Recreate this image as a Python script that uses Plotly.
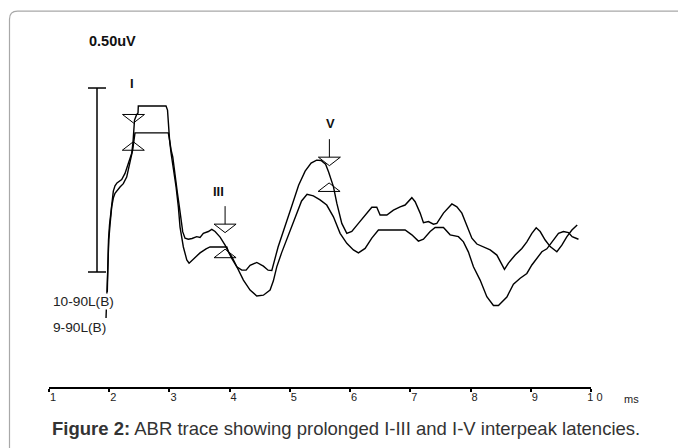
import plotly.graph_objects as go

# ---------------- data (time in ms, amplitude in uV) ----------------
t1_ms = [1.968, 1.977, 1.988, 2.005, 2.025, 2.046, 2.068, 2.096, 2.129, 2.207, 2.262, 2.317, 2.374,
         2.395, 2.403, 2.420, 2.453, 2.478, 2.483, 2.943, 2.968, 2.985, 3.002, 3.027, 3.055, 3.077,
         3.110, 3.132, 3.165, 3.188, 3.221, 3.259, 3.314, 3.375, 3.453, 3.508, 3.563, 3.646, 3.703,
         3.758, 3.841, 3.924, 3.979, 4.035, 4.118, 4.201, 4.273, 4.339, 4.450, 4.560, 4.638, 4.700,
         4.804, 4.920, 5.037, 5.145, 5.253, 5.352, 5.444, 5.518, 5.593, 5.643, 5.723, 5.779, 5.862,
         5.945, 6.028, 6.138, 6.249, 6.360, 6.443, 6.498, 6.610, 6.719, 6.830, 6.913, 7.025, 7.080,
         7.163, 7.218, 7.301, 7.384, 7.440, 7.550, 7.690, 7.773, 7.856, 7.939, 8.022, 8.105, 8.214,
         8.326, 8.437, 8.491, 8.563, 8.629, 8.741, 8.852, 8.935, 9.018, 9.090, 9.156, 9.239, 9.322,
         9.433, 9.516, 9.600, 9.683, 9.771]
t1_uv = [-0.054, 0.033, 0.087, 0.128, 0.163, 0.196, 0.220, 0.234, 0.242, 0.251, 0.268, 0.295, 0.323,
         0.353, 0.386, 0.413, 0.427, 0.432, 0.451, 0.451, 0.440, 0.399, 0.359, 0.332, 0.313, 0.285,
         0.250, 0.215, 0.177, 0.141, 0.109, 0.092, 0.089, 0.091, 0.096, 0.094, 0.105, 0.110, 0.116,
         0.110, 0.095, 0.073, 0.055, 0.037, 0.014, 0.005, 0.005, 0.018, 0.026, 0.016, 0.005, 0.004,
         0.068, 0.128, 0.182, 0.236, 0.274, 0.296, 0.304, 0.303, 0.293, 0.272, 0.232, 0.187, 0.132,
         0.105, 0.110, 0.132, 0.155, 0.176, 0.176, 0.155, 0.155, 0.168, 0.177, 0.182, 0.202, 0.191,
         0.160, 0.134, 0.137, 0.130, 0.132, 0.160, 0.185, 0.177, 0.160, 0.128, 0.092, 0.076, 0.069,
         0.060, 0.046, 0.028, 0.007, 0.024, 0.046, 0.064, 0.082, 0.105, 0.120, 0.110, 0.087, 0.069,
         0.055, 0.073, 0.096, 0.114, 0.128]

t2_ms = [1.947, 1.955, 1.968, 1.977, 1.993, 2.013, 2.041, 2.068, 2.096, 2.179, 2.234, 2.290, 2.345,
         2.390, 2.412, 2.428, 2.981, 3.002, 3.027, 3.065, 3.093, 3.110, 3.148, 3.176, 3.231, 3.288,
         3.326, 3.409, 3.508, 3.608, 3.674, 3.952, 3.979, 4.035, 4.090, 4.145, 4.228, 4.339, 4.450,
         4.560, 4.671, 4.726, 4.782, 4.862, 4.978, 5.086, 5.194, 5.285, 5.390, 5.501, 5.612, 5.723,
         5.834, 5.945, 6.055, 6.138, 6.249, 6.360, 6.470, 6.913, 7.025, 7.134, 7.218, 7.329, 7.412,
         7.550, 7.661, 7.799, 7.882, 7.965, 8.048, 8.159, 8.270, 8.380, 8.463, 8.603, 8.712, 8.824,
         8.935, 9.018, 9.101, 9.184, 9.267, 9.350, 9.460, 9.543, 9.626, 9.687, 9.792]
t2_uv = [-0.125, -0.076, -0.035, 0.033, 0.087, 0.128, 0.177, 0.201, 0.214, 0.231, 0.240, 0.258, 0.295,
         0.332, 0.359, 0.378, 0.378, 0.359, 0.323, 0.285, 0.250, 0.231, 0.177, 0.122, 0.068, 0.033,
         0.024, 0.037, 0.052, 0.063, 0.068, 0.068, 0.055, 0.042, 0.024, 0.005, -0.022, -0.049, -0.065,
         -0.063, -0.049, -0.024, 0.014, 0.052, 0.101, 0.149, 0.193, 0.211, 0.207, 0.196, 0.182, 0.150,
         0.105, 0.078, 0.060, 0.052, 0.064, 0.092, 0.114, 0.114, 0.101, 0.084, 0.089, 0.110, 0.121,
         0.121, 0.101, 0.096, 0.082, 0.054, 0.014, -0.022, -0.067, -0.091, -0.091, -0.068, -0.033, -0.017,
         -0.004, 0.019, 0.037, 0.055, 0.063, 0.082, 0.105, 0.110, 0.107, 0.096, 0.089]

trace_names = ["10-90L(B)", "9-90L(B)"]
trace_label_uv = [-0.079, -0.152]
trace_label_ms = 1.05

# wave peaks: labels and marker positions (apex of marker triangles)
peak_labels = ["I", "III", "V"]
peak_label_ms = [2.379, 3.812, 5.668]
peak_label_uv = [0.512, 0.219, 0.404]
down_ms = [2.403, 3.924, 5.656]     # trace 1 (10-90L)
down_uv = [0.405, 0.107, 0.289]
down_stem = [False, True, True]
up_ms = [2.400, 3.924, 5.651]       # trace 2 (9-90L)
up_uv = [0.354, 0.062, 0.242]

scale_ms = 1.797
scale_uv = [0.0, 0.5]
scale_label = "0.50uV"

tick_vals = [1, 2, 3, 4, 5, 6, 7, 8, 9, 10]
tick_text = ["1", "2", "3", "4", "5", "6", "7", "8", "9", "1 0"]
x_unit = "ms"
caption_bold = "Figure 2:"
caption_rest = " ABR trace showing prolonged I-III and I-V interpeak latencies."

FONT = "Liberation Sans, Arial, Helvetica, sans-serif"

fig = go.Figure()
for xs, ys in [(t1_ms, t1_uv), (t2_ms, t2_uv)]:
    fig.add_trace(go.Scatter(x=xs, y=ys, mode="lines", line=dict(color="black", width=1.4),
                             hoverinfo="skip", showlegend=False))

# scale bar
fig.add_trace(go.Scatter(x=[scale_ms, scale_ms], y=scale_uv, mode="lines",
                         line=dict(color="black", width=1.5), hoverinfo="skip", showlegend=False))

shapes = []
for v in scale_uv:
    shapes.append(dict(type="path", xref="x", yref="y", xsizemode="pixel", ysizemode="pixel",
                       xanchor=scale_ms, yanchor=v, path="M -9,0 L 9,0",
                       line=dict(color="black", width=1.5)))

TW, TH = 11, 8.5
for x, y, stem in zip(down_ms, down_uv, down_stem):
    shapes.append(dict(type="path", xref="x", yref="y", xsizemode="pixel", ysizemode="pixel",
                       xanchor=x, yanchor=y, path=f"M -{TW},{TH} L {TW},{TH} L 0,0 Z",
                       line=dict(color="black", width=1), fillcolor="rgba(0,0,0,0)"))
    if stem:
        shapes.append(dict(type="path", xref="x", yref="y", xsizemode="pixel", ysizemode="pixel",
                           xanchor=x, yanchor=y, path=f"M 0,{TH} L 0,{TH + 18}",
                           line=dict(color="black", width=1)))
for x, y in zip(up_ms, up_uv):
    shapes.append(dict(type="path", xref="x", yref="y", xsizemode="pixel", ysizemode="pixel",
                       xanchor=x, yanchor=y, path=f"M -{TW},-{TH} L {TW},-{TH} L 0,0 Z",
                       line=dict(color="black", width=1), fillcolor="rgba(0,0,0,0)"))

# frame of the figure card (rounded top-left corner)
shapes.append(dict(type="path", xref="paper", yref="paper", xsizemode="pixel", ysizemode="pixel",
                   xanchor=0, yanchor=0,
                   path="M -39.5,-80 L -39.5,367.8 Q -39.5,375.8 -31.5,375.8 L 700,375.8",
                   line=dict(color="#a8a8a8", width=1.2), layer="below"))

annotations = []
for txt, x, y in zip(peak_labels, peak_label_ms, peak_label_uv):
    annotations.append(dict(x=x, y=y, xref="x", yref="y", text=f"<b>{txt}</b>", showarrow=False,
                            xanchor="center", yanchor="middle",
                            font=dict(family=FONT, size=13, color="#111")))
annotations.append(dict(x=2.047, y=0.628, xref="x", yref="y", text=f"<b>{scale_label}</b>",
                        showarrow=False, xanchor="center", yanchor="middle",
                        font=dict(family=FONT, size=14.5, color="#111")))
for name, y in zip(trace_names, trace_label_uv):
    annotations.append(dict(x=trace_label_ms, y=y, xref="x", yref="y", text=name, showarrow=False,
                            xanchor="left", yanchor="middle", bgcolor="white", borderpad=0,
                            font=dict(family=FONT, size=13.7, color="#222")))
annotations.append(dict(x=(622 - 49) / 542, y=-0.0318, xref="paper", yref="paper", text=x_unit,
                        showarrow=False, xanchor="left", yanchor="middle",
                        font=dict(family=FONT, size=11, color="#222")))
annotations.append(dict(x=0.0018, y=-0.1088, xref="paper", yref="paper", xanchor="left",
                        yanchor="middle", showarrow=False,
                        text=f"<b>{caption_bold}</b>{caption_rest}",
                        font=dict(family=FONT, size=18.5, color="#333")))

fig.update_layout(
    width=678, height=448, autosize=False,
    margin=dict(l=49, r=87, t=10, b=61),
    paper_bgcolor="white", plot_bgcolor="white",
    shapes=shapes, annotations=annotations, showlegend=False,
    xaxis=dict(range=[1, 10], showgrid=False, zeroline=False, showline=True, linecolor="black",
               linewidth=2, ticks="outside", ticklen=3, tickwidth=1.5, tickcolor="black",
               tickvals=tick_vals, ticktext=tick_text, ticklabelshift=4, ticklabelstandoff=-4,
               tickfont=dict(family=FONT, size=11, color="#222"), fixedrange=True),
    yaxis=dict(range=[-0.3125, 0.712], visible=False, fixedrange=True),
)

fig.write_html("out.html")
